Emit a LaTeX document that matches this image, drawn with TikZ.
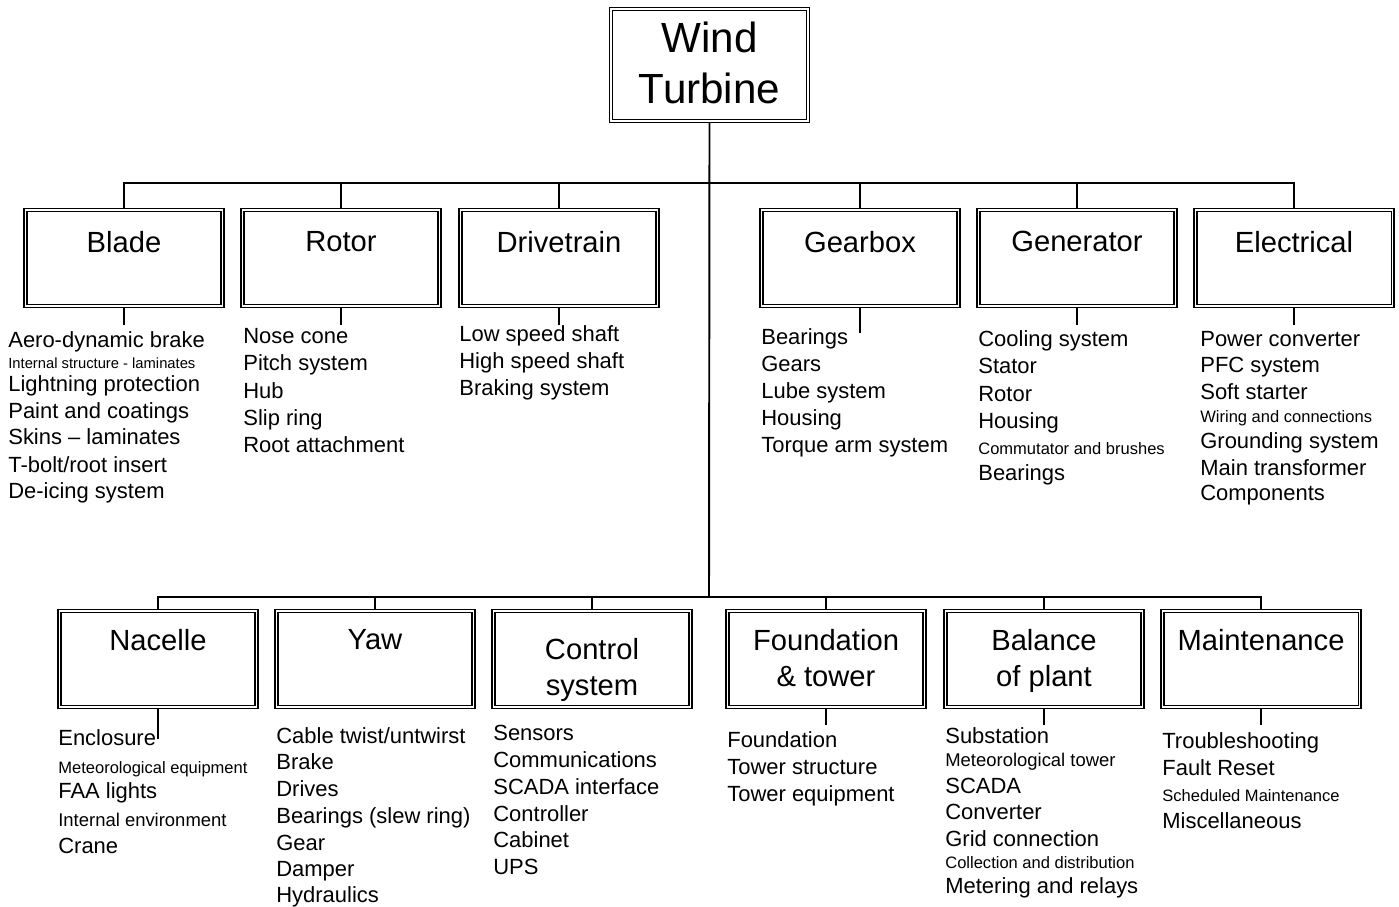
\documentclass[tikz,border=0pt]{standalone}
\usepackage{fontspec}
\setmainfont{Liberation Sans}
\usetikzlibrary{backgrounds}

\begin{document}
\begin{tikzpicture}[
    conn/.style={line width=0.75pt},
    trunk/.style={line width=1.1pt},
    unit/.style={draw, double, double distance=1.1pt, line width=0.6pt, minimum width=3.94cm, minimum height=1.92cm, inner sep=0pt},
    unittxt/.style={font=\fontsize{16.6}{20.4}\selectfont, align=center, anchor=north, inner sep=0pt},
    itm/.style={font=\fontsize{12.5}{15}\selectfont, anchor=base west, inner sep=0pt},
    itmm/.style={itm, font=\fontsize{10.5}{12}\selectfont},
    itms/.style={itm, font=\fontsize{9.4}{11}\selectfont},
    itmt/.style={itm, font=\fontsize{8.4}{10}\selectfont},
]
\useasboundingbox (0,0) rectangle (27.98,-18.14);
% ============================================================
% TOP:  Wind Turbine
% ============================================================
\node[unit, minimum height=2.24cm] (top) at (14.19,-1.30) {};
\node[unittxt, font=\fontsize{24}{29}\selectfont] (top-txt) at (14.19,-0.44) {Wind\\Turbine};
\coordinate (hub1) at (14.18,-3.66);
\coordinate (hub2) at (14.18,-11.94);
% ============================================================
% ROW 1:  subsystems
% ============================================================
\foreach \name/\x/\txt in {blade/2.48/Blade, rotor/6.82/Rotor, drive/11.18/Drivetrain, gearbox/17.20/Gearbox, generator/21.54/Generator, elec/25.88/Electrical} {
    \node[unit] (\name) at (\x,-5.16) {};
    \node[unittxt] (\name-txt) at (\x,-4.62) {\txt};
}
% stub ends
\coordinate (blade-end) at (2.48,-6.50);
\coordinate (rotor-end) at (6.82,-6.50);
\coordinate (drive-end) at (11.18,-6.50);
\coordinate (gearbox-end) at (17.20,-6.66);
\coordinate (generator-end) at (21.54,-6.50);
\coordinate (elec-end) at (25.88,-6.50);
% ============================================================
% ROW 2:  subsystems
% ============================================================
\node[unit] (nacelle) at (3.16,-13.18) {};
\node[unittxt] (nacelle-txt) at (3.16,-12.58) {Nacelle};
\node[unit] (yaw) at (7.50,-13.18) {};
\node[unittxt] (yaw-txt) at (7.50,-12.58) {Yaw};
\node[unit] (control) at (11.84,-13.18) {};
\node[unittxt] (control-txt) at (11.84,-12.76) {Control\\system};
\node[unit] (found) at (16.52,-13.18) {};
\node[unittxt] (found-txt) at (16.52,-12.58) {Foundation\\\& tower};
\node[unit] (bop) at (20.88,-13.18) {};
\node[unittxt] (bop-txt) at (20.88,-12.58) {Balance\\of plant};
\node[unit] (maint) at (25.22,-13.18) {};
\node[unittxt] (maint-txt) at (25.22,-12.58) {Maintenance};
% stub ends
\coordinate (nacelle-end) at (3.16,-14.78);
\coordinate (found-end) at (16.52,-14.50);
\coordinate (bop-end) at (20.88,-14.50);
\coordinate (maint-end) at (25.22,-14.50);
% ============================================================
% Connectors (behind the double borders)
% ============================================================
\begin{scope}[on background layer]
\draw[trunk] (top.south) -- (hub2);
\foreach \name in {blade, rotor, drive, gearbox, generator, elec} {
    \draw[conn] (\name.north) |- (hub1);
    \draw[conn] (\name.south) -- (\name-end);
}
\foreach \name in {nacelle, yaw, control, found, bop, maint} {
    \draw[conn] (\name.north) |- (hub2);
}
\foreach \name in {nacelle, found, bop, maint} {
    \draw[conn] (\name.south) -- (\name-end);
}
\end{scope}
% ============================================================
% Component lists, row 1
% ============================================================
\foreach \y/\s/\t [count=\i] in {-6.96/itm/Aero-dynamic brake, -7.36/itmt/Internal structure - laminates, -7.84/itm/Lightning protection, -8.38/itm/Paint and coatings, -8.90/itm/Skins -- laminates, -9.44/itm/{T-bolt/root insert}, -9.96/itm/De-icing system}
    \node[\s] (blade-\i) at (0.16,\y) {\t};
\foreach \y/\t [count=\i] in {-6.88/Nose cone, -7.42/Pitch system, -7.96/Hub, -8.50/Slip ring, -9.04/Root attachment}
    \node[itm] (rotor-\i) at (4.86,\y) {\t};
\foreach \y/\t [count=\i] in {-6.84/Low speed shaft, -7.36/High speed shaft, -7.90/Braking system}
    \node[itm] (drive-\i) at (9.18,\y) {\t};
\foreach \y/\t [count=\i] in {-6.90/Bearings, -7.44/Gears, -7.96/Lube system, -8.50/Housing, -9.04/Torque arm system}
    \node[itm] (gearbox-\i) at (15.22,\y) {\t};
\foreach \y/\s/\t [count=\i] in {-6.94/itm/Cooling system, -7.48/itm/Stator, -8.02/itm/Rotor, -8.56/itm/Housing, -9.08/itms/Commutator and brushes, -9.60/itm/Bearings}
    \node[\s] (generator-\i) at (19.56,\y) {\t};
\foreach \y/\s/\t [count=\i] in {-6.94/itm/Power converter, -7.46/itm/PFC system, -8.00/itm/Soft starter, -8.44/itms/Wiring and connections, -8.96/itm/Grounding system, -9.50/itm/Main transformer, -10.00/itm/Components}
    \node[\s] (elec-\i) at (24.00,\y) {\t};
% ============================================================
% Component lists, row 2
% ============================================================
\foreach \y/\s/\t [count=\i] in {-14.90/itm/Enclosure, -15.46/itms/Meteorological equipment, -15.96/itm/FAA lights, -16.52/itmm/Internal environment, -17.06/itm/Crane}
    \node[\s] (nacelle-\i) at (1.16,\y) {\t};
\foreach \y/\t [count=\i] in {-14.86/{Cable twist/untwirst}, -15.38/Brake, -15.92/Drives, -16.46/Bearings (slew ring), -17.00/Gear, -17.52/Damper, -18.04/Hydraulics}
    \node[itm] (yaw-\i) at (5.52,\y) {\t};
\foreach \y/\t [count=\i] in {-14.80/Sensors, -15.34/Communications, -15.88/SCADA interface, -16.42/Controller, -16.94/Cabinet, -17.48/UPS}
    \node[itm] (control-\i) at (9.86,\y) {\t};
\foreach \y/\t [count=\i] in {-14.94/Foundation, -15.48/Tower structure, -16.02/Tower equipment}
    \node[itm] (found-\i) at (14.54,\y) {\t};
\foreach \y/\s/\t [count=\i] in {-14.86/itm/Substation, -15.32/itmm/Meteorological tower, -15.86/itm/SCADA, -16.38/itm/Converter, -16.92/itm/Grid connection, -17.36/itms/Collection and distribution, -17.86/itm/Metering and relays}
    \node[\s] (bop-\i) at (18.90,\y) {\t};
\foreach \y/\s/\t [count=\i] in {-14.96/itm/Troubleshooting, -15.50/itm/Fault Reset, -16.02/itms/Scheduled Maintenance, -16.56/itm/Miscellaneous}
    \node[\s] (maint-\i) at (23.24,\y) {\t};
\end{tikzpicture}
\end{document}
